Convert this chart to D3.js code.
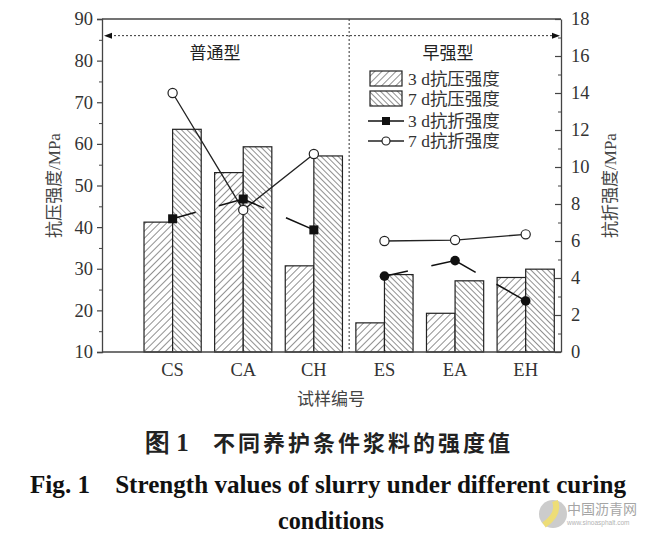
<!DOCTYPE html>
<html><head><meta charset="utf-8">
<script src="https://cdn.jsdelivr.net/npm/d3@7"></script>
<style>body{margin:0;background:#fff}svg{display:block}</style>
</head><body>
<svg id="c" width="645" height="539"></svg>
<script>
const categories = ["CS","CA","CH","ES","EA","EH"];
const groupOfCat = ["C","C","C","E","E","E"];
const comp3d = [41.2, 53.1, 30.7, 17.0, 19.3, 27.9];
const comp7d = [63.5, 59.3, 57.1, 28.6, 27.1, 29.9];
const flex3d = [7.2, 8.27, 6.6, 4.1, 4.94, 2.76];
const flex7d = [14.0, 7.68, 10.7, 6.0, 6.05, 6.36];
const leftTicks = [10,20,30,40,50,60,70,80,90];
const rightTicks = [0,2,4,6,8,10,12,14,16,18];
const groupLabels = ["普通型","早强型"];
const legendLabels = ["3 d抗压强度","7 d抗压强度","3 d抗折强度","7 d抗折强度"];

const svg = d3.select("#c");
const serif = "'Liberation Serif','Times New Roman','Noto Sans CJK SC',serif";
const L = 102, R = 561, T = 19, B = 352;
const x = d3.scaleLinear().domain([0, 6.5]).range([L, R]);
const yL = d3.scaleLinear().domain([10, 90]).range([B, T]);
const yR = d3.scaleLinear().domain([0, 18]).range([B, T]);
const bw = 0.405;

// patterns
const defs = svg.append("defs");
function hatch(id, sp, dir){
  const p = defs.append("pattern").attr("id", id).attr("patternUnits","userSpaceOnUse")
    .attr("width", sp).attr("height", sp).attr("patternTransform", `rotate(${dir})`);
  p.append("rect").attr("width", sp).attr("height", sp).attr("fill","#fff");
  p.append("line").attr("x1",0).attr("y1",0).attr("x2",0).attr("y2",sp).attr("stroke","#222").attr("stroke-width",1);
}
hatch("h3", 5.0, 45);
hatch("h7", 4.0, -45);

// bars
const g = svg.append("g");
categories.forEach((c,i)=>{
  g.append("rect").attr("x", x(i+1-bw)).attr("width", x(bw)-x(0))
    .attr("y", yL(comp3d[i])).attr("height", yL(10)-yL(comp3d[i]))
    .attr("fill","url(#h3)").attr("stroke","#222").attr("stroke-width",1.2);
  g.append("rect").attr("x", x(i+1)).attr("width", x(bw)-x(0))
    .attr("y", yL(comp7d[i])).attr("height", yL(10)-yL(comp7d[i]))
    .attr("fill","url(#h7)").attr("stroke","#222").attr("stroke-width",1.2);
});

// divider and arrows
svg.append("line").attr("x1", x(3.5)).attr("x2", x(3.5)).attr("y1", T).attr("y2", B)
  .attr("stroke","#333").attr("stroke-width",1).attr("stroke-dasharray","2,2");
svg.append("line").attr("x1", L+8).attr("x2", R-8).attr("y1", yL(86)).attr("y2", yL(86))
  .attr("stroke","#333").attr("stroke-width",1).attr("stroke-dasharray","2,2");
const ay = yL(86);
svg.append("path").attr("d", `M${L+2},${ay} L${L+10},${ay-3} L${L+10},${ay+3} Z`).attr("fill","#111");
svg.append("path").attr("d", `M${R-1},${ay} L${R-9},${ay-3} L${R-9},${ay+3} Z`).attr("fill","#111");

// group labels
svg.append("text").attr("x", x(1.6)).attr("y", yL(86)+23).attr("text-anchor","middle")
  .attr("font-family", serif).attr("font-size", 17).attr("fill","#222").text(groupLabels[0]);
svg.append("text").attr("x", x(4.9)).attr("y", yL(86)+23).attr("text-anchor","middle")
  .attr("font-family", serif).attr("font-size", 17).attr("fill","#222").text(groupLabels[1]);

// lines
const line7 = d3.line().x(d=>x(d.i+1)).y(d=>yR(d.v));
["C","E"].forEach(grp=>{
  const pts7 = flex7d.map((v,i)=>({v,i})).filter(d=>groupOfCat[d.i]===grp);
  const pts3 = flex3d.map((v,i)=>({v,i})).filter(d=>groupOfCat[d.i]===grp);
  svg.append("path").attr("d", line7(pts7)).attr("fill","none").attr("stroke","#222").attr("stroke-width",1.3);
  svg.append("path").attr("d", line7(pts3)).attr("fill","none").attr("stroke","#111").attr("stroke-width",1.5)
    .attr("stroke-dasharray","48,24").attr("stroke-dashoffset",24);
  pts7.forEach(d=>{
    svg.append("circle").attr("cx", x(d.i+1)).attr("cy", yR(d.v)).attr("r",4.6)
      .attr("fill","#fff").attr("stroke","#222").attr("stroke-width",1.2);
  });
  pts3.forEach(d=>{
    if(grp==="C"){
      svg.append("rect").attr("x", x(d.i+1)-4.5).attr("y", yR(d.v)-4.5).attr("width",9).attr("height",9).attr("fill","#111");
    } else {
      svg.append("circle").attr("cx", x(d.i+1)).attr("cy", yR(d.v)).attr("r",4.8).attr("fill","#111");
    }
  });
});

// frame
svg.append("line").attr("x1",L).attr("x2",R).attr("y1",T).attr("y2",T).attr("stroke","#444").attr("stroke-width",1.3);
svg.append("line").attr("x1",L).attr("x2",R).attr("y1",B).attr("y2",B).attr("stroke","#444").attr("stroke-width",1.3);

// left axis
const la = svg.append("g").attr("transform",`translate(${L},0)`)
  .call(d3.axisLeft(yL).tickValues(leftTicks).tickSize(5).tickPadding(4).tickFormat(d3.format("d")));
la.select(".domain").attr("stroke","#444").attr("stroke-width",1.3);
la.selectAll(".tick line").attr("stroke","#444").attr("stroke-width",1.2);
la.selectAll("text").attr("font-family",serif).attr("font-size",18.5).attr("fill","#333");
svg.append("g").attr("transform",`translate(${L},0)`)
  .call(d3.axisLeft(yL).tickValues(d3.range(15,90,10)).tickSize(3).tickFormat(""))
  .call(s=>{s.select(".domain").remove(); s.selectAll("line").attr("stroke","#444");});

// right axis (inward ticks)
const ra = svg.append("g").attr("transform",`translate(${R},0)`)
  .call(d3.axisRight(yR).tickValues(rightTicks).tickSizeInner(-6).tickSizeOuter(0).tickPadding(10).tickFormat(d3.format("d")));
ra.select(".domain").attr("stroke","#444").attr("stroke-width",1.3);
ra.selectAll(".tick line").attr("stroke","#444").attr("stroke-width",1.2);
ra.selectAll("text").attr("font-family",serif).attr("font-size",18.5).attr("fill","#333");
svg.append("g").attr("transform",`translate(${R},0)`)
  .call(d3.axisRight(yR).tickValues(d3.range(1,18,2)).tickSize(-3).tickFormat(""))
  .call(s=>{s.select(".domain").remove(); s.selectAll("line").attr("stroke","#444");});

// x labels
categories.forEach((c,i)=>{
  svg.append("text").attr("x", x(i+1)).attr("y", B+24).attr("text-anchor","middle")
    .attr("font-family",serif).attr("font-size",18.5).attr("fill","#333").text(c);
});
svg.append("text").attr("x", 331).attr("y", 405).attr("text-anchor","middle")
  .attr("font-family",serif).attr("font-size",17).attr("fill","#444").text("试样编号");

// axis titles
svg.append("text").attr("transform",`translate(60,${(T+B)/2}) rotate(-90)`).attr("text-anchor","middle")
  .attr("font-family",serif).attr("font-size",17).attr("fill","#444").text("抗压强度/MPa");
svg.append("text").attr("transform",`translate(616,${(T+B)/2}) rotate(-90)`).attr("text-anchor","middle")
  .attr("font-family",serif).attr("font-size",17).attr("fill","#444").text("抗折强度/MPa");

// legend
const lx = 370, lw = 32;
const lg = svg.append("g");
lg.append("rect").attr("x",lx).attr("y",71).attr("width",lw).attr("height",15).attr("fill","url(#h3)").attr("stroke","#222").attr("stroke-width",1.2);
lg.append("rect").attr("x",lx).attr("y",91).attr("width",lw).attr("height",15).attr("fill","url(#h7)").attr("stroke","#222").attr("stroke-width",1.2);
lg.append("line").attr("x1",lx-2).attr("x2",lx+lw+2).attr("y1",121).attr("y2",121).attr("stroke","#111").attr("stroke-width",1.5);
lg.append("rect").attr("x",lx+lw/2-4).attr("y",117).attr("width",8).attr("height",8).attr("fill","#111");
lg.append("line").attr("x1",lx-2).attr("x2",lx+lw+2).attr("y1",141).attr("y2",141).attr("stroke","#222").attr("stroke-width",1.3);
lg.append("circle").attr("cx",lx+lw/2).attr("cy",141).attr("r",4).attr("fill","#fff").attr("stroke","#222").attr("stroke-width",1.2);
[78.5, 98.5, 121, 141].forEach((yy,k)=>{
  lg.append("text").attr("x",lx+lw+6).attr("y",yy).attr("dy","0.35em")
    .attr("font-family",serif).attr("font-size",17.5).attr("fill","#333").text(legendLabels[k]);
});

// captions
svg.append("text").attr("x",145).attr("y",451)
  .attr("font-family","'Liberation Serif',serif").attr("font-weight","bold").attr("font-size",25).attr("fill","#222")
  .text("图 1");
svg.append("text").attr("x",213).attr("y",451).attr("letter-spacing",3)
  .attr("font-family","'Noto Sans CJK SC',sans-serif").attr("font-weight","bold").attr("font-size",22).attr("fill","#222")
  .text("不同养护条件浆料的强度值");
svg.append("text").attr("x",30).attr("y",493).attr("textLength",596).attr("lengthAdjust","spacingAndGlyphs")
  .attr("font-family","'Liberation Serif',serif").attr("font-weight","bold").attr("font-size",25).attr("fill","#111")
  .text("Fig. 1\u2003Strength values of slurry under different curing");
svg.append("text").attr("x",278).attr("y",529).attr("textLength",106).attr("lengthAdjust","spacingAndGlyphs")
  .attr("font-family","'Liberation Serif',serif").attr("font-weight","bold").attr("font-size",25).attr("fill","#111")
  .text("conditions");

// watermark
const wm = svg.append("g").attr("opacity",0.75);
wm.append("circle").attr("cx",553).attr("cy",514).attr("r",14).attr("fill","#bbb");
wm.append("path").attr("d","M544,525 Q560,514 555,501").attr("fill","none").attr("stroke","#e8d24a").attr("stroke-width",6);
wm.append("text").attr("x",567).attr("y",514).attr("font-family","'Noto Sans CJK SC',sans-serif").attr("font-size",14).attr("fill","#888").text("中国沥青网");
wm.append("text").attr("x",567).attr("y",525).attr("font-family","'Liberation Sans',sans-serif").attr("font-size",6.5).attr("fill","#999").text("www.sinoasphalt.com");
</script>
</body></html>
